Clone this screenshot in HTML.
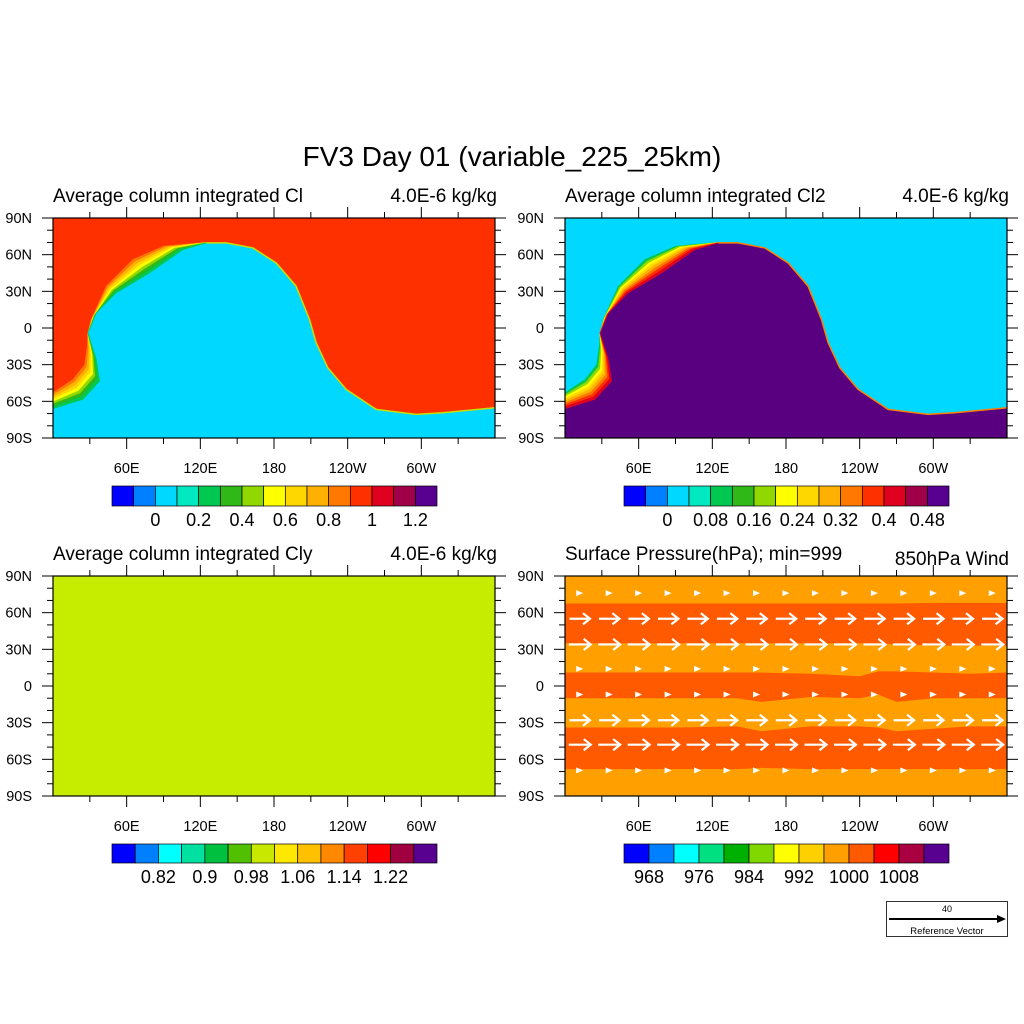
<!DOCTYPE html>
<html><head><meta charset="utf-8"><style>
html,body{margin:0;padding:0;background:#fff;}
svg{display:block;font-family:"Liberation Sans",sans-serif;}
</style></head><body>
<svg id="root" width="1024" height="1024" viewBox="0 0 1024 1024" xmlns="http://www.w3.org/2000/svg">
<rect width="1024" height="1024" fill="#fff"/>
<text x="512" y="166" font-size="28" text-anchor="middle">FV3 Day 01 (variable_225_25km)</text>
</svg>
<script>
// ---- data ----
const lonTicks = [60,120,180,240,300];
const lonTickLabels = ["60E","120E","180","120W","60W"];
const latTicks = [90,60,30,0,-30,-60,-90];
const latTickLabels = ["90N","60N","30N","0","30S","60S","90S"];
// cyan/purple region boundary (lon, lat)
const bLon = [0,24.4,38,35.3,29.3,28.5,35.3,51.5,78.7,105.8,124.8,141.1,162.8,181.8,198,208.9,214.3,223.8,238.7,263.2,295.7,317.4,360];
const bLat = [-66,-58.4,-43.4,-25.7,-6.7,-4,12.4,28.7,45.1,64.1,69.6,69.6,65.5,53.2,34.2,7,-12.1,-32.5,-50.2,-66.6,-70.7,-69.3,-65.2];
// outer edge of transition band (matched to first 11 boundary points)
const oLon = [0,16.3,25.8,27.9,28.3,28.5,31.2,43.4,65.1,90,124.8];
const oLat = [-53,-42.1,-30,-15,-6,-4,7,34.2,56,67,70.1];
// colorbars
const cb1Colors = ["#0000ff","#0080ff","#00d8ff","#00e8c0","#00c850","#30b818","#90d800","#ffff00","#ffd700","#ffb000","#ff7800","#ff3000","#e00020","#a00048","#580090"];
const cb1Labels = ["0","0.2","0.4","0.6","0.8","1","1.2"];
const cb2Labels = ["0","0.08","0.16","0.24","0.32","0.4","0.48"];
const cb3Colors = ["#0000ff","#0080ff","#00ffff","#00e0a0","#00c040","#50c000","#c8e800","#ffe800","#ffc000","#ff8800","#ff4000","#ff0000","#a00040","#580090"];
const cb3Labels = ["0.82","0.9","0.98","1.06","1.14","1.22"];
const cb4Colors = ["#0000ff","#0080ff","#00ffff","#00e080","#00b000","#80d800","#ffff00","#ffd000","#ffa000","#ff5a00","#ff0000","#a80040","#580090"];
const cb4Labels = ["968","976","984","992","1000","1008"];
// pressure band edges (lat) at sample longitudes
const pLon = [0,90,140,160,200,240,255,270,300,330,360];
const e1 = [67.5,67.5,67.5,67.5,67.5,67.5,67.5,67.5,68,68,68];
const e2 = [35,35,35,35,35,35,35,34,33,33,33];
const e3 = [11,11,11,11,10,8,12,12,11,10,11];
const e4 = [-10,-10,-10,-13,-9,-10,-7,-13,-10,-10,-10];
const e5 = [-34,-34,-33,-37,-33,-33,-34,-37,-35,-33,-33];
const e6 = [-68,-68,-68,-67,-68,-68,-68,-68,-68,-68,-68];
// wind rows
const windLat = [76,55,34,14,-7,-28,-48,-69];
const windSpeed = [1.5,7,7.5,1.5,1,7,7.5,1.8];
const windLon = [12,36,60,84,108,132,156,180,204,228,252,276,300,324,348];

const NS="http://www.w3.org/2000/svg";
const root=document.getElementById('root');
function mk(tag,attrs,parent){const e=document.createElementNS(NS,tag);for(const k in attrs)e.setAttribute(k,attrs[k]);(parent||root).appendChild(e);return e;}
const W=442,H=220;
function X(p,lon){return p.x0+lon/360*W;}
function Y(p,lat){return p.y0+(90-lat)/180*H;}
const panels=[{x0:53,y0:218},{x0:565,y0:218},{x0:53,y0:576},{x0:565,y0:576}];

function clip(p,id){const d=mk('defs',{});const c=mk('clipPath',{id:id},d);mk('rect',{x:p.x0,y:p.y0,width:W,height:H},c);}

function axes(p,name){
  const g=mk('g',{});
  
  
  mk('rect',{x:p.x0,y:p.y0,width:W,height:H,fill:'none',stroke:'#000','stroke-width':1.2},g);
  for(let lon=30;lon<360;lon+=30){
    const x=X(p,lon),maj=lon%60===0,L=maj?11:6;
    mk('line',{x1:x,y1:p.y0,x2:x,y2:p.y0-L,stroke:'#000','stroke-width':1},g);
    mk('line',{x1:x,y1:p.y0+H,x2:x,y2:p.y0+H+L,stroke:'#000','stroke-width':1},g);
  }
  for(let lat=-90;lat<=90;lat+=10){
    const y=Y(p,lat),maj=lat%30===0,L=maj?11:6;
    mk('line',{x1:p.x0,y1:y,x2:p.x0-L,y2:y,stroke:'#000','stroke-width':1},g);
    mk('line',{x1:p.x0+W,y1:y,x2:p.x0+W+L,y2:y,stroke:'#000','stroke-width':1},g);
  }
  lonTicks.forEach((lon,i)=>{const t=mk('text',{x:X(p,lon),y:p.y0+H+35,'font-size':14.5,'text-anchor':'middle'},g);t.textContent=lonTickLabels[i];
    
    });
  latTicks.forEach((lat,i)=>{const t=mk('text',{x:p.x0-21,y:Y(p,lat)+5,'font-size':14.5,'text-anchor':'end'},g);t.textContent=latTickLabels[i];
    
    });
}
function titles(p,left,right,name,dyR){
  const a=mk('text',{x:p.x0,y:p.y0-16,'font-size':19});a.textContent=left;
  
  
  const b=mk('text',{x:p.x0+W+2,y:p.y0-16+(dyR||0),'font-size':19,'text-anchor':'end'});b.textContent=right;
  
  
}
function colorbar(x0,y0,w,h,colors,labels,start,step,name){
  const g=mk('g',{});
  
  
  const bw=w/colors.length;
  colors.forEach((c,i)=>{const r=mk('rect',{x:x0+i*bw,y:y0,width:bw,height:h,fill:c,stroke:'#000','stroke-width':0.7},g);
    
    });
  labels.forEach((l,i)=>{const t=mk('text',{x:x0+(start+i*step)*bw,y:y0+h+20,'font-size':18,'text-anchor':'middle'},g);t.textContent=l;
    
    });
}
function ptsBoundary(p){let s='';for(let i=0;i<bLon.length;i++)s+=X(p,bLon[i])+','+Y(p,bLat[i])+' ';s+=X(p,360)+','+Y(p,-90)+' '+X(p,0)+','+Y(p,-90);return s;}
function band(p,g,colors){
  const n=colors.length;
  for(let k=0;k<n;k++){
    const t1=k/n,t2=(k+1)/n;let a=[],b=[];
    for(let i=0;i<oLon.length;i++){
      a.push(X(p,oLon[i]+(bLon[i]-oLon[i])*t1)+','+Y(p,oLat[i]+(bLat[i]-oLat[i])*t1));
      b.push(X(p,oLon[i]+(bLon[i]-oLon[i])*t2)+','+Y(p,oLat[i]+(bLat[i]-oLat[i])*t2));
    }
    const pg=mk('polygon',{points:a.concat(b.reverse()).join(' '),fill:colors[k],stroke:colors[k],'stroke-width':0.6},g);
    
    
  }
}
function edgeLine(p,g,color){
  let s=[];for(let i=10;i<bLon.length;i++)s.push(X(p,bLon[i])+','+Y(p,bLat[i]));
  mk('polyline',{points:s.join(' '),fill:'none',stroke:color,'stroke-width':1.5},g);
}

// Panel 1
(function(){const p=panels[0];clip(p,'c1');
  const g=mk('g',{'clip-path':'url(#c1)'});
  
  
  mk('rect',{x:p.x0,y:p.y0,width:W,height:H,fill:'#ff3000'},g);
  mk('polygon',{points:ptsBoundary(p),fill:'#00d8ff'},g);
  band(p,g,['#ff7800','#ffb000','#ffd700','#ffff00','#90d800','#30b818','#00c850']);
  edgeLine(p,g,'#c8e000');
  axes(p,'cl');titles(p,'Average column integrated Cl','4.0E-6 kg/kg','cl');
  colorbar(112,486,325,20,cb1Colors,cb1Labels,2,2,'cl-colorbar');
})();
// Panel 2
(function(){const p=panels[1];clip(p,'c2');
  const g=mk('g',{'clip-path':'url(#c2)'});
  
  
  mk('rect',{x:p.x0,y:p.y0,width:W,height:H,fill:'#00d8ff'},g);
  mk('polygon',{points:ptsBoundary(p),fill:'#580080'},g);
  band(p,g,['#00c850','#90d800','#ffff00','#ffd700','#ffb000','#ff7800','#ff3000','#e00020']);
  edgeLine(p,g,'#ff8000');
  axes(p,'cl2');titles(p,'Average column integrated Cl2','4.0E-6 kg/kg','cl2');
  colorbar(624,486,325,20,cb1Colors,cb2Labels,2,2,'cl2-colorbar');
})();
// Panel 3
(function(){const p=panels[2];
  const r=mk('rect',{x:p.x0,y:p.y0,width:W,height:H,fill:'#c6ec00'});
  
  
  axes(p,'cly');titles(p,'Average column integrated Cly','4.0E-6 kg/kg','cly');
  colorbar(112,844,325,19,cb3Colors,cb3Labels,2,2,'cly-colorbar');
})();
// Panel 4
(function(){const p=panels[3];clip(p,'c4');
  const g=mk('g',{'clip-path':'url(#c4)'});
  
  
  mk('rect',{x:p.x0,y:p.y0,width:W,height:H,fill:'#ffa000'},g);
  [[e1,e2],[e3,e4],[e5,e6]].forEach(pr=>{
    let a=[],b=[];
    for(let i=0;i<pLon.length;i++){a.push(X(p,pLon[i])+','+Y(p,pr[0][i]));b.push(X(p,pLon[i])+','+Y(p,pr[1][i]));}
    const pg=mk('polygon',{points:a.concat(b.reverse()).join(' '),fill:'#ff5a00'},g);
    
    
  });
  const ref=117/40;
  windLat.forEach((lat,r)=>{
    windLon.forEach(lon=>{
      const len=windSpeed[r]*ref,cx=X(p,lon),cy=Y(p,lat);
      const x1=cx-len/2,x2=cx+len/2,h=Math.min(7,Math.max(3,len*0.35));
      const a=mk('g',{},g);
      
      
      if(len>8){
        mk('line',{x1:x1,y1:cy,x2:x2,y2:cy,stroke:'#fff','stroke-width':2.2},a);
        mk('polyline',{points:(x2-h)+','+(cy-h*0.8)+' '+x2+','+cy+' '+(x2-h)+','+(cy+h*0.8),fill:'none',stroke:'#fff','stroke-width':2.2},a);
      } else {
        mk('polygon',{points:(cx-3.5)+','+(cy-3)+' '+(cx+3.5)+','+cy+' '+(cx-3.5)+','+(cy+3),fill:'#fff'},a);
      }
    });
  });
  axes(p,'pressure');titles(p,'Surface Pressure(hPa); min=999','850hPa Wind','pressure',5);
  colorbar(624,844,325,19,cb4Colors,cb4Labels,1,2,'pressure-colorbar');
  const rg=mk('g',{});
  
  
  mk('rect',{x:886.5,y:901.5,width:121,height:35,fill:'#fff',stroke:'#000','stroke-width':0.8},rg);
  mk('line',{x1:889,y1:919,x2:1000,y2:919,stroke:'#000','stroke-width':2},rg);
  mk('polygon',{points:'1006,919 997,915 997,923',fill:'#000'},rg);
  const t1=mk('text',{x:947,y:912,'font-size':9,'text-anchor':'middle'},rg);t1.textContent='40';
  const t2=mk('text',{x:947,y:934,'font-size':9.5,'text-anchor':'middle'},rg);t2.textContent='Reference Vector';
})();
</script>
</body></html>
